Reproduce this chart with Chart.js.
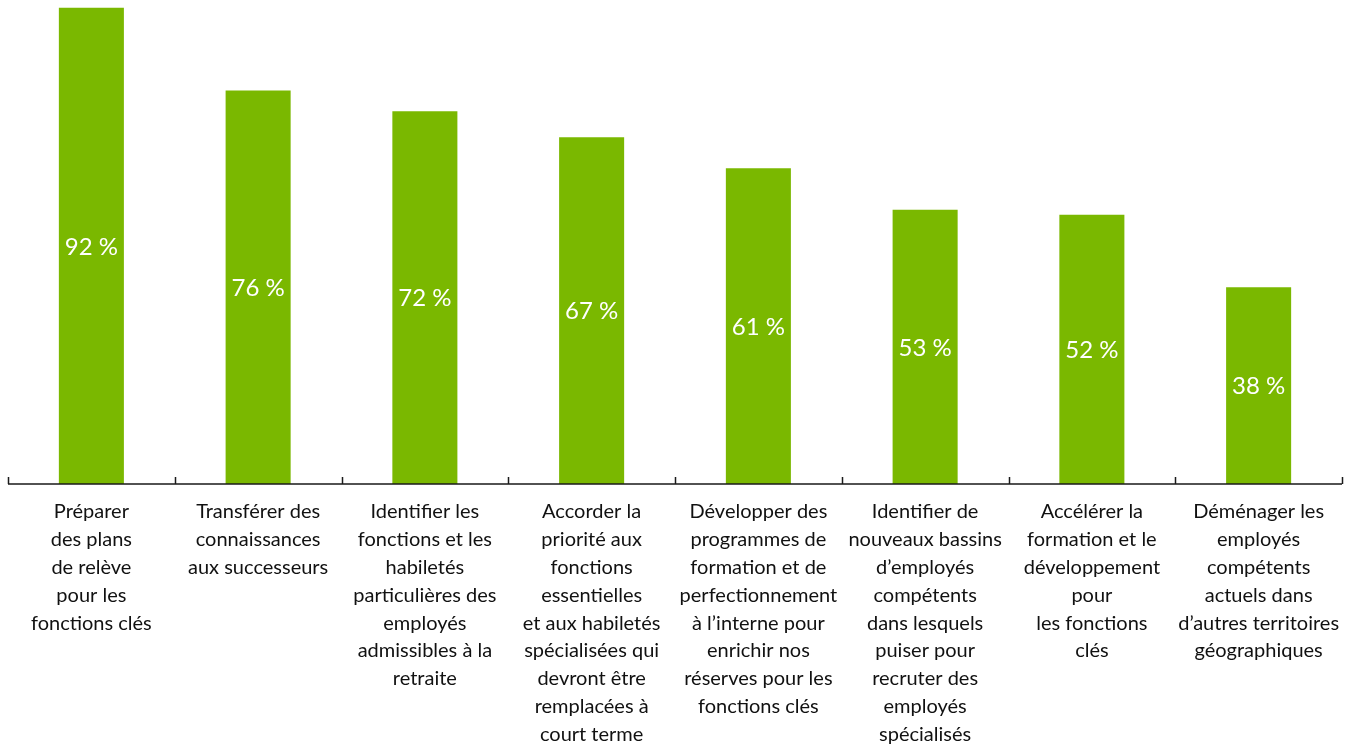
<!DOCTYPE html>
<html lang="fr">
<head>
<meta charset="utf-8">
<title>Mesures de relève</title>
<script src="https://cdn.jsdelivr.net/npm/chart.js@4.4.1/dist/chart.umd.min.js"></script>
<style>
  html, body { margin: 0; padding: 0; background: #ffffff; }
  #wrap { width: 1355px; height: 746px; position: relative; }
</style>
</head>
<body>
<div id="wrap"><canvas id="chart"></canvas></div>
<script>
// Catégories (libellés sur plusieurs lignes)
const categories = [
  ["Préparer", "des plans", "de relève", "pour les", "fonctions clés"],
  ["Transférer des", "connaissances", "aux successeurs"],
  ["Identifier les", "fonctions et les", "habiletés", "particulières des", "employés", "admissibles à la", "retraite"],
  ["Accorder la", "priorité aux", "fonctions", "essentielles", "et aux habiletés", "spécialisées qui", "devront être", "remplacées à", "court terme"],
  ["Développer des", "programmes de", "formation et de", "perfectionnement", "à l’interne pour", "enrichir nos", "réserves pour les", "fonctions clés"],
  ["Identifier de", "nouveaux bassins", "d’employés", "compétents", "dans lesquels", "puiser pour", "recruter des", "employés", "spécialisés"],
  ["Accélérer la", "formation et le", "développement", "pour", "les fonctions", "clés"],
  ["Déménager les", "employés", "compétents", "actuels dans", "d’autres territoires", "géographiques"]
];

// Pourcentages de répondants
const percentages = [92, 76, 72, 67, 61, 53, 52, 38];

const GREEN = "#7ab800";
const AXIS = "#1a1a1a";

// Valeurs en blanc au centre de chaque barre
const valueLabels = {
  id: "valueLabels",
  afterDatasetsDraw(chart) {
    const ctx = chart.ctx;
    const meta = chart.getDatasetMeta(0);
    ctx.save();
    ctx.fillStyle = "#ffffff";
    ctx.font = "24px Lato, 'Open Sans', sans-serif";
    ctx.textAlign = "center";
    ctx.textBaseline = "middle";
    meta.data.forEach((bar, i) => {
      const p = bar.getProps(["x", "y", "base"], true);
      ctx.fillText(percentages[i] + " %", p.x, (p.y + p.base) / 2 + 1);
    });
    ctx.restore();
  }
};

// Axe horizontal avec petites graduations vers le haut entre les catégories
const baseAxis = {
  id: "baseAxis",
  afterDraw(chart) {
    const ctx = chart.ctx;
    const x = chart.scales.x;
    const y0 = chart.scales.y.getPixelForValue(0);
    const n = categories.length;
    const step = (x.right - x.left) / n;
    ctx.save();
    ctx.strokeStyle = AXIS;
    ctx.lineWidth = 1.5;
    ctx.beginPath();
    ctx.moveTo(x.left, y0);
    ctx.lineTo(x.right, y0);
    for (let i = 0; i <= n; i++) {
      const px = Math.round(x.left + i * step) + 0.5;
      ctx.moveTo(px, y0);
      ctx.lineTo(px, y0 - 7);
    }
    ctx.stroke();
    ctx.restore();
  }
};

new Chart(document.getElementById("chart"), {
  type: "bar",
  data: {
    labels: categories,
    datasets: [{
      data: percentages,
      backgroundColor: GREEN,
      borderWidth: 0,
      barPercentage: 0.39,
      categoryPercentage: 1
    }]
  },
  options: {
    responsive: true,
    maintainAspectRatio: false,
    animation: false,
    layout: { padding: { left: 8, right: 13, top: 0, bottom: 0 } },
    plugins: {
      legend: { display: false },
      tooltip: { enabled: false }
    },
    scales: {
      x: {
        grid: { display: false },
        border: { display: false },
        ticks: {
          color: "#111111",
          font: { family: "Lato, 'Open Sans', sans-serif", size: 20, lineHeight: 1.39 },
          padding: 6,
          maxRotation: 0,
          autoSkip: false
        },
        afterFit(scale) { scale.height = 262; }
      },
      y: {
        display: false,
        min: 0,
        max: 93.5
      }
    }
  },
  plugins: [valueLabels, baseAxis]
});
</script>
</body>
</html>
